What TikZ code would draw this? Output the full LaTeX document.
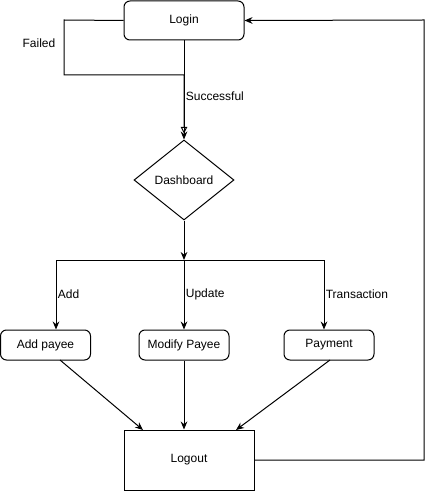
\documentclass[tikz,border=0pt]{standalone}
\usepackage{fontspec}
\setmainfont{Liberation Sans}
\usetikzlibrary{arrows.meta,shapes.geometric}
\begin{document}
\begin{tikzpicture}[x=0.75pt,y=-0.75pt,
  every node/.style={font=\fontsize{9pt}{11pt}\selectfont},
  line/.style={line width=0.75pt},
  arr/.style={line, -{Stealth[length=6pt,width=5pt]}},
  oarr/.style={line, -{Triangle[open,length=5pt,width=5pt]}},
  rbox/.style={draw, line width=0.75pt, rounded corners=4.5pt, minimum width=67.5pt, minimum height=22.5pt, inner sep=0pt},
  lbl/.style={anchor=west, inner sep=1pt}
]
\useasboundingbox (0,0) rectangle (434,491);
\node[rbox, minimum width=90pt, minimum height=29.25pt] (login) at (184,20.5) {Login};
\node[draw, diamond, aspect=1.25, line width=0.75pt, minimum width=75pt, minimum height=60pt, inner sep=0pt] (dash) at (184,180) {Dashboard};
\node[rbox] (add) at (45.5,345) {Add payee};
\node[rbox] (mod) at (184,345) {Modify Payee};
\node[rbox] (pay) at (329,345) {Payment};
\node[draw, line width=0.75pt, minimum width=97.5pt, minimum height=45pt, inner sep=0pt] (logout) at (189,460) {Logout};

\coordinate (fl) at (64,20);
\coordinate (fb) at (64,75);
\coordinate (fm) at (184,75);
\draw[oarr, shorten >=4.5pt] (login.west) -- (fl) -- (fb) -- (fm) -- (dash.north);
\node (failed) at (39,43) {Failed};
\draw[arr] (login.south) -- node[lbl, pos=0.56] (succ) {Successful} (dash.north);

\coordinate (split) at (184,260);
\coordinate (sl) at (56,260);
\coordinate (sr) at (324,260);
\draw[arr] (dash.south) -- (split);
\draw[line] (sl) -- (sr);
\draw[arr] (sl) -- node[lbl, pos=0.49] (ladd) {Add} (sl |- add.north);
\draw[arr] (split) -- node[lbl, pos=0.49] (lupd) {Update} (mod.north);
\draw[arr] (sr) -- node[lbl, pos=0.49] (ltr) {Transaction} (sr |- pay.north);

\coordinate (a1) at (60,360);
\coordinate (a2) at (143,430);
\coordinate (p1) at (330,360);
\coordinate (p2) at (236,430);
\draw[arr] (a1) -- (a2);
\draw[arr] (mod.south) -- (mod.south |- logout.north);
\draw[arr] (p1) -- (p2);

\coordinate (r1) at (424,460);
\coordinate (r2) at (424,20);
\draw[arr] (logout.east) -- (r1) -- (r2) -- (login.east);
\end{tikzpicture}
\end{document}
